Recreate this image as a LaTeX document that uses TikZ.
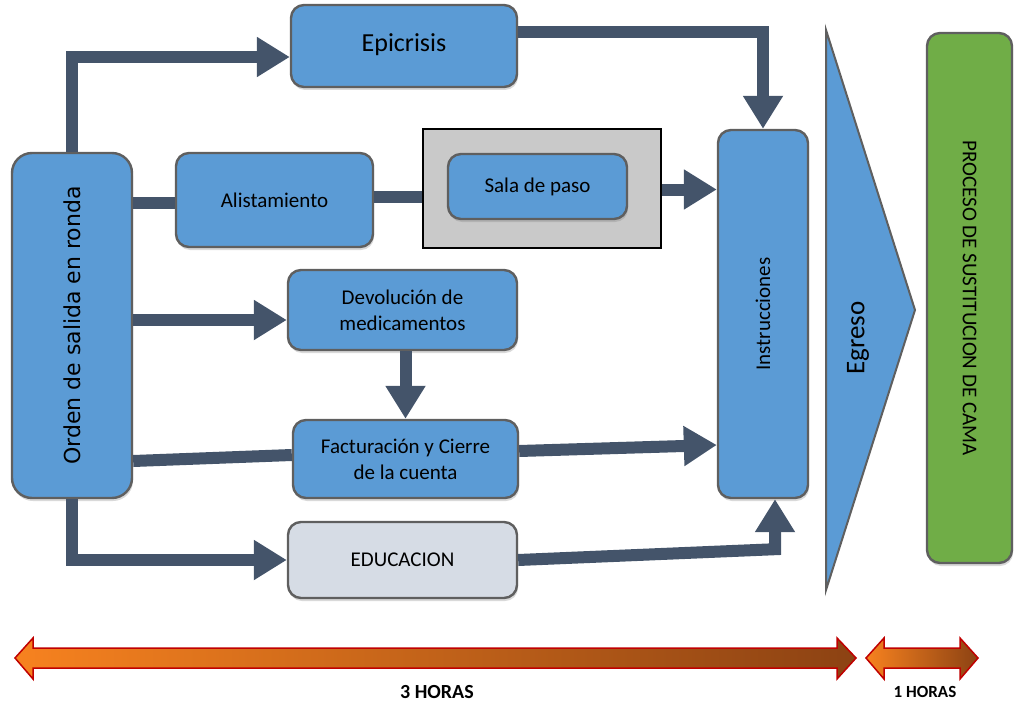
\documentclass[tikz,border=0pt]{standalone}
\usepackage{fontspec}
\usepackage{graphicx}
\setmainfont{Carlito}
\newfontfamily\ordenfont{DejaVu Sans}
\usetikzlibrary{arrows.meta,shadows}
\definecolor{boxblue}{HTML}{5B9BD5}
\definecolor{boxline}{HTML}{5F5F5F}
\definecolor{flowgray}{HTML}{44546A}
\definecolor{salagray}{HTML}{C9C9C9}
\definecolor{edugray}{HTML}{D6DCE5}
\definecolor{camagreen}{HTML}{70AD47}
\definecolor{horaL}{HTML}{F7821F}
\definecolor{horaR}{HTML}{8C4213}
\definecolor{horaline}{HTML}{C00000}
\begin{document}
\begin{tikzpicture}[x=1pt,y=-1pt,
  proc node/.style={rectangle,rounded corners=13pt,draw=boxline,line width=2.4pt,fill=boxblue,
    inner sep=0pt,align=center,font=\fontsize{21}{26}\selectfont,
    drop shadow={shadow xshift=1pt,shadow yshift=-3pt,opacity=.3}},
  flow/.style={draw=flowgray,line width=12pt},
  flow head/.style={flow,-{Triangle[length=33pt,width=38pt]}},
  hora/.style={draw=horaline,line width=1.5pt,left color=horaL,right color=horaR}]

  \useasboundingbox (0,0) rectangle (1014,706);

  \node[proc node,rounded corners=20pt,minimum width=120,minimum height=345] (orden) at (72,325.5)
    {\rotatebox{90}{\ordenfont\fontsize{22}{26}\selectfont Orden de salida en ronda}};
  \node[proc node,minimum width=226,minimum height=82,font=\fontsize{26}{30}\selectfont] (epi) at (404,46) {\raisebox{6pt}{Epicrisis}};
  \node[proc node,minimum width=197,minimum height=94] (alist) at (274.5,200) {Alistamiento};
  \node[rectangle,draw=black,line width=2pt,fill=salagray,minimum width=238,minimum height=119] (sala) at (542,188.5) {};
  \node[proc node,minimum width=179,minimum height=65,drop shadow={opacity=0}] (salin) at (537.5,186.5) {Sala de paso};
  \node[proc node,minimum width=229,minimum height=80] (devol) at (402.5,310) {Devolución de\\medicamentos};
  \node[proc node,minimum width=225,minimum height=78] (factu) at (405.5,459) {Facturación y Cierre\\de la cuenta};
  \node[proc node,fill=edugray,minimum width=229,minimum height=76] (edu) at (402.5,560) {EDUCACION};
  \node[proc node,minimum width=90,minimum height=368] (instr) at (763,314) {\rotatebox{90}{Instrucciones}};

  % egreso chevron and cama
  \draw[draw=boxline,line width=2pt,fill=boxblue] (826,30) -- (915,310) -- (826,590) -- cycle;
  \node[font=\fontsize{27}{30}\selectfont] (egreso) at (858,338) {\rotatebox{90}{Egreso}};
  \node[proc node,fill=camagreen,minimum width=85,minimum height=530,drop shadow={opacity=0}] (cama) at (969.5,298)
    {\rotatebox{-90}{PROCESO DE SUSTITUCION DE CAMA}};

  \path[every edge/.style={flow}]
  ([yshift=-3pt]orden.east |- alist.west) edge ([yshift=-3pt]alist.west)
  ([yshift=3pt]alist.east) edge ([yshift=3pt]alist.east -| sala.west)
  ([yshift=-2pt]orden.east |- factu.west) edge ([yshift=4pt]factu.west);

  \path[every edge/.style={flow head}]
  (orden.north) edge[to path={|- (\tikztotarget)}] ([yshift=-11pt]epi.west)
  ([yshift=14pt]epi.east) edge[to path={-| (\tikztotarget)}] (instr.north)
  ([yshift=-1pt]sala.east) edge ([yshift=-1pt]sala.east -| instr.west)
  ([yshift=-10pt]orden.east |- devol.west) edge ([yshift=-10pt]devol.west)
  (factu.south |- devol.south) edge (factu.north)
  ([yshift=8pt]factu.east) edge ([yshift=14pt]factu.east -| instr.west)
  (orden.south) edge[to path={|- (\tikztotarget)}] (edu.west);
  \draw[flow head] (edu.east) -- ([xshift=12pt,yshift=-50pt]instr.south) -- ([xshift=12pt]instr.south);

  % time bars
  \draw[hora] (15,658) -- (33,638) -- (33,648) -- (837,648) -- (837,638) -- (856,658)
    -- (837,679) -- (837,668) -- (33,668) -- (33,679) -- cycle;
  \draw[hora] (866,658) -- (884,638) -- (884,648) -- (960,648) -- (960,638) -- (978,658)
    -- (960,679) -- (960,668) -- (884,668) -- (884,679) -- cycle;
  \node[font=\bfseries\fontsize{20}{24}\selectfont] (tres) at (437,692) {3 HORAS};
  \node[font=\bfseries\fontsize{17}{20}\selectfont] (una) at (925,692) {1 HORAS};
\end{tikzpicture}
\end{document}
